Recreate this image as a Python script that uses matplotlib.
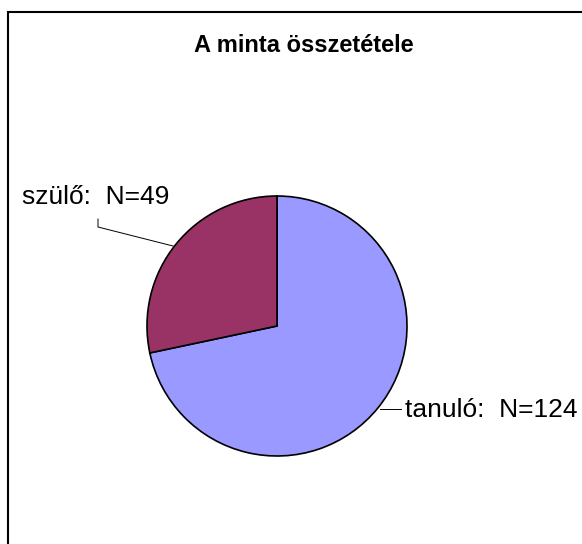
import matplotlib
matplotlib.use("Agg")
import matplotlib.pyplot as plt

# data
labels = ["tanuló", "szülő"]
counts = [124, 49]
colors = ["#9999FF", "#993366"]

W, H = 582, 544
plt.rcParams['font.family'] = ['Liberation Sans', 'DejaVu Sans']

fig = plt.figure(figsize=(W / 100, H / 100), dpi=100)
ax = fig.add_axes([0, 0, 1, 1])

# pie, center/radius in pixel units (y measured from bottom)
cx, cy, r = 277, H - 326, 130
ax.pie(counts, colors=colors, startangle=90, counterclock=False,
       center=(cx, cy), radius=r, frame=True,
       wedgeprops=dict(edgecolor='black', linewidth=1.2))
ax.set_xlim(0, W)
ax.set_ylim(0, H)
ax.set_aspect('equal')
ax.axis('off')

# outer frame (only left and top visible)
ax.plot([8, 8, W + 20], [-20, H - 12, H - 12], color='black', lw=1.5,
        solid_joinstyle='miter')

ax.text(304, H - 51.5, "A minta összetétele", ha='center', va='baseline',
        fontsize=17, fontweight='bold')

# labels with leader lines
ax.text(22, H - 204, f"{labels[1]}:  N={counts[1]}", ha='left', va='baseline',
        fontsize=19)
ax.plot([98, 98, 173], [H - 219, H - 227, H - 246], color='black', lw=0.7)

ax.text(405, H - 417, f"{labels[0]}:  N={counts[0]}", ha='left', va='baseline',
        fontsize=19)
ax.plot([380, 401], [H - 409, H - 409], color='black', lw=0.7)

fig.savefig("out.png", dpi=100)
